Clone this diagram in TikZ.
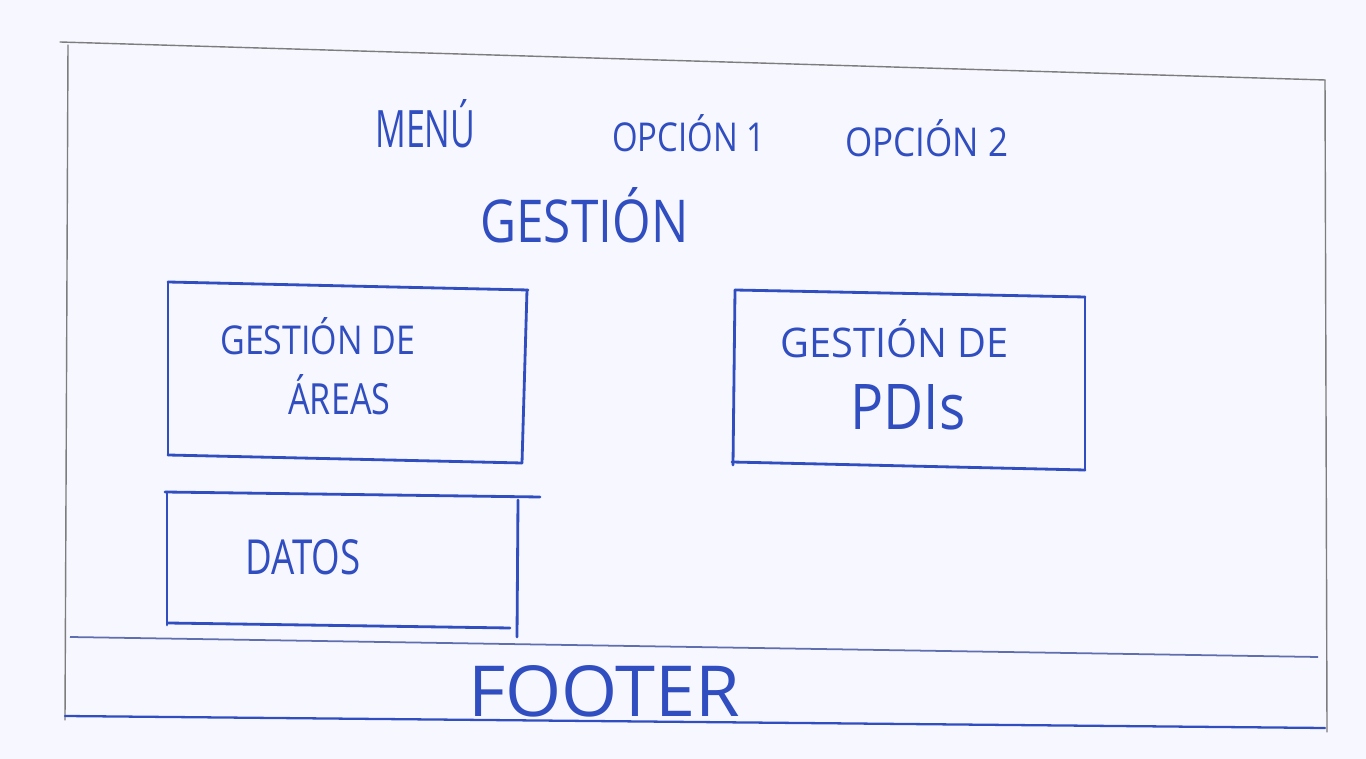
\documentclass[tikz,border=0pt]{standalone}
\usepackage{fontspec}
\setmainfont{Open Sans}
\definecolor{ink}{RGB}{48,78,192}
\definecolor{pencil}{RGB}{125,125,125}
\definecolor{inkgray}{RGB}{95,110,175}
\tikzset{
  inkline/.style={draw=ink, line width=1.6pt, line cap=round},
  pencilline/.style={draw=pencil, line width=0.8pt, line cap=round},
  hand/.style={text=ink, inner sep=0pt, anchor=south west},
}
\newcommand{\hw}[3]{\resizebox{#1\dimexpr 0.02cm\relax}{#2\dimexpr 0.02cm\relax}{#3}}
\begin{document}
\begin{tikzpicture}[x=0.02cm,y=-0.02cm]
\useasboundingbox (0,0) rectangle (1366,759);
\fill[white!97!blue] (0,0) rectangle (1366,759);
% outer frame (pencil)
\draw[pencilline] (60,42) -- (1325,80);
\draw[pencilline] (68,45) -- (65,720);
\draw[pencilline] (1325,80) -- (1327,732);
% footer lines
\draw[draw=inkgray, line width=1pt] (70,637) -- (1318,657);
\draw[inkline, line width=1.3pt] (65,716) -- (1325,728);
% Gestion de areas box
\draw[inkline] (168,282) -- (528,290);
\draw[inkline] (168,282) -- (168,455);
\draw[inkline] (168,455) -- (522,463);
\draw[inkline] (527,290) -- (522,463);
% Gestion de PDIs box
\draw[inkline] (735,290) -- (1085,297);
\draw[inkline] (735,290) -- (733,465);
\draw[inkline] (732,462) -- (1085,470);
\draw[inkline] (1085,297) -- (1085,470);
% Datos box
\draw[inkline] (165,492) -- (540,497);
\draw[inkline] (167,492) -- (167,625);
\draw[inkline] (168,623) -- (510,628);
\draw[inkline] (518,500) -- (517,637);
% texts
\node[hand] (menu) at (375,148) {\hw{100}{48}{MENÚ}};
\node[hand] (op1) at (612,152) {\hw{153}{37}{OPCIÓN 1}};
\node[hand] (op2) at (845,157) {\hw{163}{37}{OPCIÓN 2}};
\node[hand] (gestion) at (480,243) {\hw{208}{55}{GESTIÓN}};
\node[hand] (ga1) at (220,355) {\hw{195}{37}{GESTIÓN DE}};
\node[hand] (ga2) at (288,415) {\hw{102}{40}{ÁREAS}};
\node[hand] (gp1) at (780,358) {\hw{228}{38}{GESTIÓN DE}};
\node[hand] (gp2) at (850,430) {\hw{115}{45}{PDIs}};
\node[hand] (datos) at (245,575) {\hw{115}{35}{DATOS}};
\node[hand] (footer) at (468,718) {\hw{272}{51}{FOOTER}};
\end{tikzpicture}
\end{document}
